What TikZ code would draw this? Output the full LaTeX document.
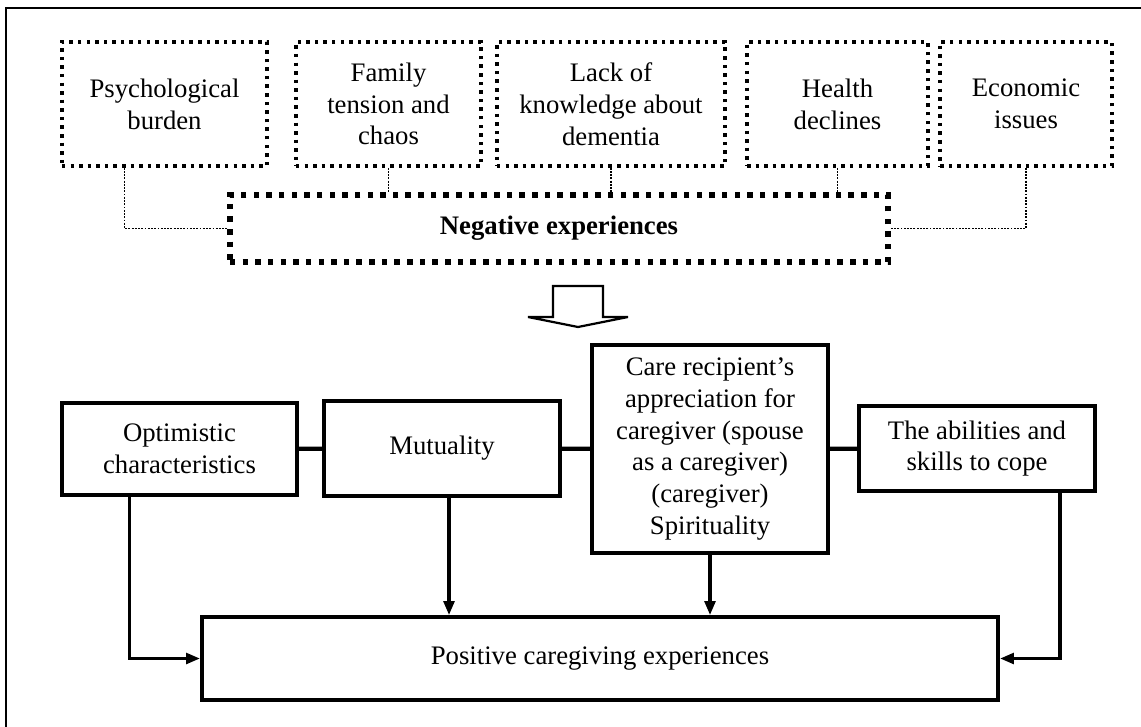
\documentclass[tikz,border=0pt]{standalone}
\usepackage{fontspec}
\setmainfont{Liberation Serif}
\usetikzlibrary{arrows.meta,positioning}

\begin{document}
\begin{tikzpicture}[
    x=0.025cm, y=-0.025cm,
    txt/.style={font=\fontsize{19pt}{22.6pt}\selectfont, align=center, inner sep=0pt},
    dotbox/.style={txt, draw, line width=2.5pt, dash pattern=on 2.5pt off 3.6pt, minimum height=3.1cm},
    negbox/.style={txt, draw, line width=3.9pt, dash pattern=on 3.9pt off 5.1pt, font=\fontsize{19pt}{22.6pt}\selectfont\bfseries},
    solidbox/.style={txt, draw, line width=2.5pt},
    thinlink/.style={line width=1.3pt, dash pattern=on 1.3pt off 1pt},
    link/.style={line width=3pt},
    arrow/.style={-{Triangle[length=10pt,width=7.5pt]}, line width=2.8pt}
]
\useasboundingbox (0,0) rectangle (1141,727);

% Frame (right and bottom edges fall outside the picture)
\draw[line width=1.6pt] (6,727) -- (6,8) -- (1141,8);

% Negative experiences
\node[dotbox, minimum width=5.125cm] (psych) at (164.5,104) {Psychological\\burden};
\node[dotbox, minimum width=4.625cm] (family) at (388.5,104) {Family\\tension and\\chaos};
\node[dotbox, minimum width=5.7cm] (lack) at (611,104) {Lack of\\knowledge about\\dementia};
\node[dotbox, minimum width=4.525cm] (health) at (837.5,104) {Health\\declines};
\node[dotbox, minimum width=4.3cm] (econ) at (1026,104) {Economic\\issues};

\node[negbox, minimum width=16.45cm, minimum height=1.675cm] (neg) at (559,228.5) {Negative experiences};

\draw[thinlink] ([xshift=-1cm]psych.south) |- (neg.west);
\draw[thinlink] (family.south) -- (family.south |- neg.north);
\draw[thinlink] (lack.south) -- (lack.south |- neg.north);
\draw[thinlink] (health.south) -- (health.south |- neg.north);
\draw[thinlink] (econ.south) |- (neg.east);

% Hollow arrow
\draw[line width=1.6pt, line join=miter] (553,286) -- (553,317) -- (528,317) -- (578,327)
    -- (628,317) -- (603,317) -- (603,286) -- cycle;

% Positive experiences
\node[solidbox, minimum width=5.875cm, minimum height=2.3cm] (opt) at (179.5,449) {Optimistic\\characteristics};
\node[solidbox, minimum width=5.9cm, minimum height=2.375cm] (mut) at (442,448.5) {Mutuality};
\node[solidbox, minimum width=5.9cm, minimum height=5.2cm] (care) at (710,449) {Care recipient’s\\appreciation for\\caregiver (spouse\\as a caregiver)\\(caregiver)\\Spirituality};
\node[solidbox, minimum width=5.9cm, minimum height=2.125cm] (abil) at (977,448.5) {The abilities and\\skills to cope};

\node[solidbox, minimum width=19.9cm, minimum height=2.075cm] (pos) at (600,658.5) {Positive caregiving experiences};

\draw[link] (opt) -- (mut);
\draw[link] (mut) -- (care);
\draw[link] (care) -- (abil);

\draw[arrow] ([xshift=-1.25cm]opt.south) |- (pos.west);
\draw[arrow] ([xshift=0.175cm]mut.south) -- ([xshift=0.175cm]mut.south |- pos.north);
\draw[arrow] (care.south) -- (care.south |- pos.north);
\draw[arrow] ([xshift=2.075cm]abil.south) |- (pos.east);

\end{tikzpicture}
\end{document}
